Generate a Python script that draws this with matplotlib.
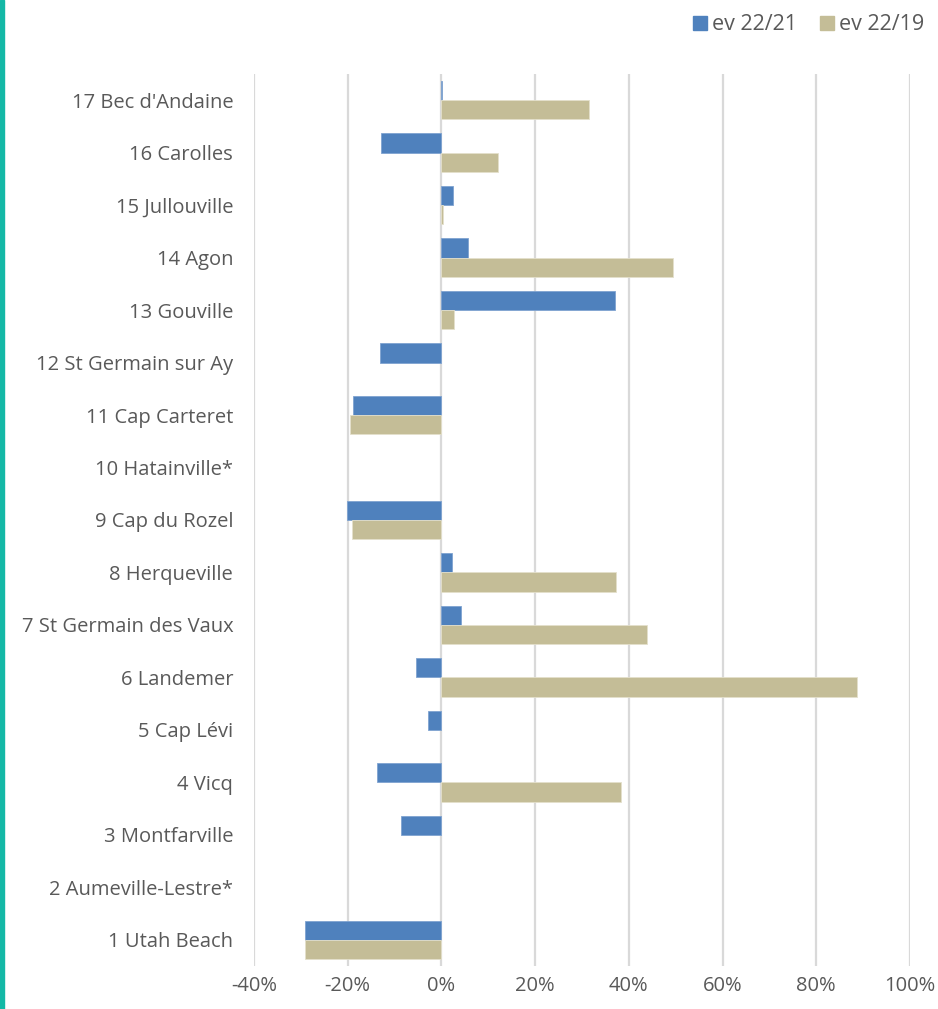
import matplotlib
matplotlib.use("Agg")
import matplotlib.pyplot as plt
import matplotlib.lines as mlines
import numpy as np

# beaches, bottom to top
sites = [
    "1 Utah Beach", "2 Aumeville-Lestre*", "3 Montfarville", "4 Vicq",
    "5 Cap Lévi", "6 Landemer", "7 St Germain des Vaux", "8 Herqueville",
    "9 Cap du Rozel", "10 Hatainville*", "11 Cap Carteret",
    "12 St Germain sur Ay", "13 Gouville", "14 Agon", "15 Jullouville",
    "16 Carolles", "17 Bec d'Andaine",
]
# variation 2022 vs 2021 and 2022 vs 2019, in %
ev_22_21 = [-29.1, 0, -8.7, -13.8, -2.9, -5.4, 4.1, 2.2, -20.2, 0, -18.9,
            -13.1, 37.1, 5.6, 2.5, -13.0, 0.1]
ev_22_19 = [-29.1, 0, 0, 38.4, 0, 88.7, 43.9, 37.2, -19.0, 0, -19.5,
            0, 2.6, 49.4, 0.3, 12.0, 31.5]
series_names = ["ev 22/21", "ev 22/19"]
xticks = [-40, -20, 0, 20, 40, 60, 80, 100]

BLUE = "#4F81BD"
TAN = "#C4BD97"
TEXT = "#595959"
FONT = ["Open Sans", "DejaVu Sans"]

fig = plt.figure(figsize=(9.38, 10.09), dpi=100)
ax = fig.add_axes([254 / 938, 43 / 1009, 656 / 938, 892 / 1009])

y = np.arange(1, len(sites) + 1)
h = 0.367


def edges(vals, c):
    # no outline on empty bars, otherwise a sliver shows at 0
    return [c if v != 0 else "none" for v in vals]


ax.barh(y + h / 2, ev_22_21, height=h, color=BLUE,
        edgecolor=edges(ev_22_21, "#7FA3D0"), linewidth=0.6, zorder=3)
ax.barh(y - h / 2, ev_22_19, height=h, color=TAN,
        edgecolor=edges(ev_22_19, "#E4E0CC"), linewidth=0.6, zorder=3)

ax.set_xlim(-40, 100)
ax.set_ylim(0.5, len(sites) + 0.5)
ax.set_xticks(xticks)
ax.set_xticklabels([f"{t}%" for t in xticks], fontsize=14.5, color=TEXT,
                   family=FONT)
ax.set_yticks(y)
ax.set_yticklabels(sites, fontsize=14.5, color=TEXT, family=FONT)
ax.tick_params(length=0)
ax.tick_params(axis="y", pad=15)
ax.tick_params(axis="x", pad=7)
ax.xaxis.grid(True, color="#D9D9D9", linewidth=1.6, zorder=0)
ax.set_axisbelow(True)
for s in ax.spines.values():
    s.set_visible(False)

# legend top right
handles = [
    mlines.Line2D([], [], marker="s", linestyle="none", markersize=10,
                  markerfacecolor=c, markeredgecolor=c)
    for c in (BLUE, TAN)
]
fig.legend(handles, series_names, loc="upper right",
           bbox_to_anchor=(1.006, 1.005), ncol=2, frameon=False,
           handletextpad=0.15, columnspacing=1.0, handlelength=0.8,
           prop={"family": FONT, "size": 15.5}, labelcolor=TEXT)

# teal accent bar at the left edge
fig.add_artist(plt.Rectangle((0, 0), 4 / 938, 1, transform=fig.transFigure,
                             color="#14B8A6", zorder=5))

fig.savefig("out.png", dpi=100)
